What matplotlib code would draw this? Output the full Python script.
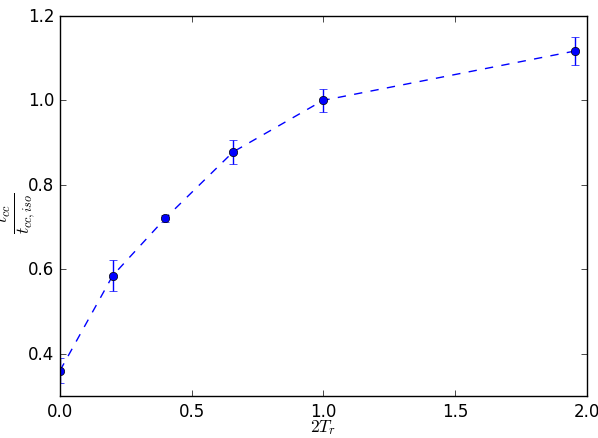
import matplotlib
matplotlib.use("Agg")
import matplotlib.pyplot as plt

plt.style.use('classic')

x_vals = [0.0, 0.2, 0.4, 0.657, 0.998, 1.954]
y_vals = [0.36, 0.585, 0.721, 0.878, 1.0, 1.117]
y_err = [0.03, 0.036, 0.008, 0.028, 0.027, 0.033]
y_ticks = [0.4, 0.6, 0.8, 1.0, 1.2]
x_ticks = [0.0, 0.5, 1.0, 1.5, 2.0]

fig = plt.figure(figsize=(5.98, 4.39), dpi=100)
ax = fig.add_axes([0.1003, 0.0957, 0.8813, 0.8656])
ax.errorbar(x_vals, y_vals, yerr=y_err, fmt='o--', color='b', ecolor='b',
            capsize=3, markersize=6, linewidth=1)
ax.set_xlim(0, 2.0)
ax.set_ylim(0.3, 1.2)
ax.set_yticks(y_ticks)
ax.set_xticks(x_ticks)
ax.set_xlabel(r'$\frac{2T_r}{T_{cc}}$', fontsize=18)
ax.set_ylabel(r'$\frac{t_{cc}}{t_{cc,iso}}$', fontsize=18)
ax.xaxis.set_label_coords(0.5, -0.055)
ax.yaxis.set_label_coords(-0.042, 0.484)
fig.savefig('out.png', dpi=100)
